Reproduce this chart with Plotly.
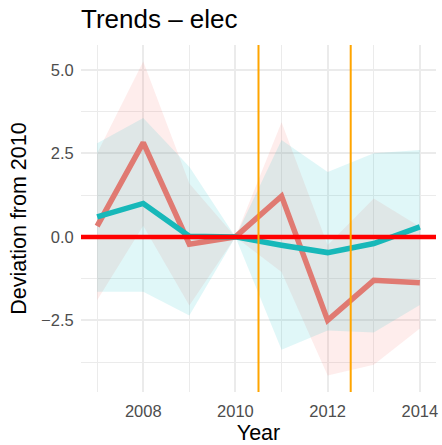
import plotly.graph_objects as go

# Year-by-year deviation from the 2010 baseline, two groups with confidence bands
years = [2007, 2008, 2009, 2010, 2011, 2012, 2013, 2014]

red_mean = [0.32, 2.82, -0.22, 0.0, 1.22, -2.5, -1.3, -1.37]
red_upper = [2.5, 5.25, 1.6, 0.0, 3.43, -0.25, 1.15, 0.3]
red_lower = [-1.9, 0.33, -2.05, 0.0, -1.05, -4.15, -3.83, -2.74]

teal_mean = [0.6, 1.0, 0.02, 0.0, -0.25, -0.47, -0.2, 0.3]
teal_upper = [2.8, 3.56, 2.1, 0.0, 2.9, 1.94, 2.5, 2.6]
teal_lower = [-1.64, -1.64, -2.35, 0.0, -3.38, -2.8, -2.86, -2.04]

event_years = [2010.5, 2012.5]

x_ticks = [2008, 2010, 2012, 2014]
x_minor = [2007, 2009, 2011, 2013]
y_ticks = [-2.5, 0.0, 2.5, 5.0]
y_tick_text = ["\u22122.5", "0.0", "2.5", "5.0"]
y_minor = [-3.75, -1.25, 1.25, 3.75]

RED_LINE = "#E07A72"
TEAL_LINE = "#17B8B9"
RED_FILL = "rgba(248,118,109,0.13)"
TEAL_FILL = "rgba(0,191,196,0.12)"
GRID = "#EBEBEB"

fig = go.Figure()

# confidence ribbons
for upper, lower, fill in [(red_upper, red_lower, RED_FILL), (teal_upper, teal_lower, TEAL_FILL)]:
    fig.add_trace(go.Scatter(
        x=years + years[::-1],
        y=upper + lower[::-1],
        fill="toself", fillcolor=fill,
        line=dict(width=0), mode="lines",
        hoverinfo="skip", showlegend=False,
    ))

# point estimates
fig.add_trace(go.Scatter(x=years, y=red_mean, mode="lines",
                         line=dict(color=RED_LINE, width=5.5), showlegend=False))
fig.add_trace(go.Scatter(x=years, y=teal_mean, mode="lines",
                         line=dict(color=TEAL_LINE, width=5.5), showlegend=False))

# zero reference line across the panel
fig.add_shape(type="line", xref="paper", yref="y", x0=0, x1=1, y0=0, y1=0,
              line=dict(color="#FF0000", width=4.5), layer="above")

# event markers
for ev in event_years:
    fig.add_shape(type="line", xref="x", yref="paper", x0=ev, x1=ev, y0=0, y1=1,
                  line=dict(color="#FFA500", width=2), layer="above")

fig.update_layout(
    width=442, height=445,
    margin=dict(l=81, r=4, t=45, b=51),
    paper_bgcolor="white", plot_bgcolor="white",
    font=dict(family="Liberation Sans, Arial, sans-serif", color="#000000"),
    title=dict(text="Trends \u2013 elec", font=dict(size=26, color="#000000"),
               xref="paper", x=0, xanchor="left",
               yref="container", y=1 - 19 / 445, yanchor="middle"),
    xaxis=dict(
        range=[2006.65, 2014.35],
        tickvals=x_ticks, ticktext=[str(v) for v in x_ticks],
        tickfont=dict(size=16.5, color="#4D4D4D"),
        ticks="outside", ticklen=4, tickcolor="rgba(0,0,0,0)",
        showgrid=True, gridcolor=GRID, gridwidth=1.6,
        minor=dict(tickvals=x_minor, showgrid=True, gridcolor=GRID, gridwidth=1.0),
        zeroline=False, showline=False,
        title=dict(text="Year", font=dict(size=21.5, color="#000000"), standoff=6),
    ),
    yaxis=dict(
        range=[-4.643, 5.744],
        tickvals=y_ticks, ticktext=y_tick_text,
        tickfont=dict(size=16.5, color="#4D4D4D"),
        ticks="outside", ticklen=3, tickcolor="rgba(0,0,0,0)",
        showgrid=True, gridcolor=GRID, gridwidth=1.6,
        minor=dict(tickvals=y_minor, showgrid=True, gridcolor=GRID, gridwidth=1.0),
        zeroline=False, showline=False,
        title=dict(text="Deviation from 2010", font=dict(size=21.5, color="#000000"), standoff=8),
    ),
)

fig.write_html("out.html")
